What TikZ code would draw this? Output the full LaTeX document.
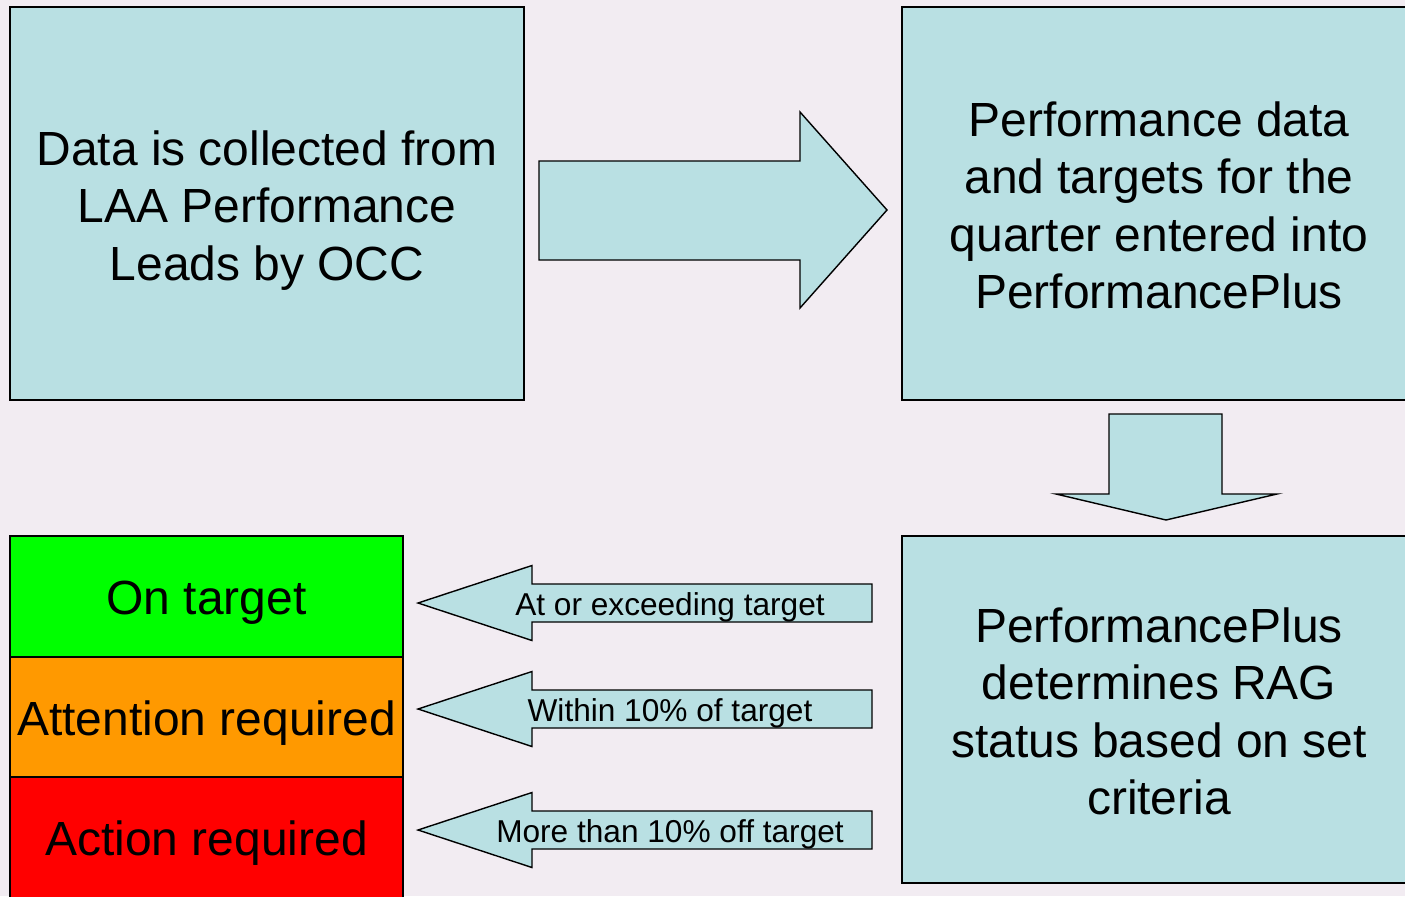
\documentclass[tikz,border=0pt]{standalone}
\usepackage{fontspec}
\setmainfont{Liberation Sans}
\definecolor{bgcol}{HTML}{F2ECF2}
\definecolor{boxcol}{HTML}{B9E0E3}
\definecolor{ongreen}{HTML}{00FF00}
\definecolor{amber}{HTML}{FF9900}
\definecolor{offred}{HTML}{FF0000}

\begin{document}
\begin{tikzpicture}[x=0.02cm,y=-0.02cm,
  box/.style={draw,fill=boxcol,line width=0.8pt,inner sep=0pt},
  ragbox/.style={draw,line width=0.8pt,inner sep=0pt,minimum width=7.86cm,minimum height=2.42cm},
  bigtext/.style={align=center,inner sep=0pt,font=\fontsize{27.3}{32.6}\selectfont},
  blockarrow/.style={draw,fill=boxcol,line width=0.8pt,line join=miter},
  armlabel/.style={font=\fontsize{18}{21}\selectfont,anchor=base,inner sep=0pt}]
\useasboundingbox[fill=bgcol] (0,0) rectangle (1405,896);
\clip (0,0) rectangle (1405,896);

\node[box,minimum width=10.28cm,minimum height=7.86cm] (collect) at (267,203.5) {};
\node[box,minimum width=10.28cm,minimum height=7.86cm] (entered) at (1159,203.5) {};
\node[box,minimum width=10.28cm,minimum height=6.94cm] (rag) at (1159,709.5) {};
\node[bigtext] (collecttxt) at ([yshift=-3.9pt]collect.center) {Data is collected from\\LAA Performance\\Leads by OCC};
\node[bigtext] (enteredtxt) at ([yshift=-1.1pt]entered.center) {Performance data\\and targets for the\\quarter entered into\\PerformancePlus};
\node[bigtext] (ragtxt) at ([yshift=-1.1pt]rag.center) {PerformancePlus\\determines RAG\\status based on set\\criteria};

\node[ragbox,fill=ongreen] (green) at (206.5,596.5) {};
\node[ragbox,fill=amber,minimum height=2.4cm] (amber) at (206.5,717) {};
\node[ragbox,fill=offred] (red) at (206.5,837.5) {};
\node[bigtext] (greentxt) at ([yshift=-3.4pt]green.center) {On target};
\node[bigtext] (ambertxt) at ([yshift=-3.4pt]amber.center) {Attention required};
\node[bigtext] (redtxt) at ([yshift=-3.4pt]red.center) {Action required};

\draw[blockarrow] (539,161) -- (800,161) -- (800,112) -- (887,210) -- (800,308) -- (800,260) -- (539,260) -- cycle;
\draw[blockarrow] (1109,414) -- (1222,414) -- (1222,494) -- (1277,494) -- (1166,520) -- (1056,494) -- (1109,494) -- cycle;

\foreach \y/\txt [count=\i] in {603/At or exceeding target, 709/Within 10\% of target, 830/More than 10\% off target}{
  \draw[blockarrow] (872,\y-19) -- (532,\y-19) -- (532,\y-37.5) -- (418,\y) -- (532,\y+37.5) -- (532,\y+19) -- (872,\y+19) -- cycle;
  \node[armlabel] (crit\i) at (670,\y+12) {\txt};
}
\end{tikzpicture}
\end{document}
